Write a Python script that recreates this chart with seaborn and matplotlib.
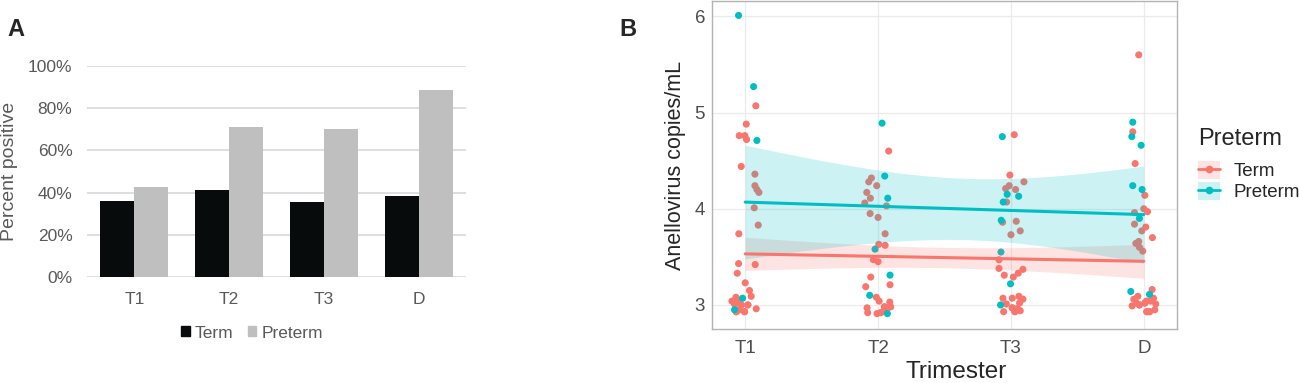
import matplotlib
matplotlib.use('Agg')
import numpy as np
import pandas as pd
import matplotlib.pyplot as plt
import seaborn as sns
from matplotlib.patches import Patch
from matplotlib.lines import Line2D

sns.set_style('white')
plt.rcParams['font.family'] = ['Liberation Sans', 'DejaVu Sans']

# Panel A: percent positive per trimester
trimesters = ['T1', 'T2', 'T3', 'D']
pct_term = [36.0, 41.1, 35.4, 38.5]
pct_preterm = [42.7, 71.2, 70.0, 88.8]

# Panel B: jittered points (x offset from category, log copies/mL)
term_t1_jit = [0.08, 0.008, -0.045, -0.003, 0.01, -0.03, 0.073, 0.073, 0.088, 0.103, 0.068, 0.098, -0.048, 0.075, -0.05,
               -0.06, 0.0, 0.032, -0.07, 0.045, -0.10, -0.055, -0.08, -0.03, 0.02, -0.045, -0.005, 0.083, -0.068,
               -0.08, -0.03, 0.02, -0.045, -0.005, -0.068]
term_t1_val = [5.07, 4.88, 4.76, 4.76, 4.72, 4.44, 4.36, 4.24, 4.20, 4.17, 4.01, 3.83, 3.74, 3.42, 3.43,
               3.33, 3.23, 3.15, 3.08, 3.09, 3.04, 3.05, 3.01, 3.00, 3.00, 2.95, 2.93, 2.96, 2.93,
               3.01, 3.00, 3.00, 2.95, 2.93, 2.93]
term_t2_jit = [0.08, -0.05, -0.07, -0.01, -0.085, -0.058, -0.1, 0.063, -0.06, 0.0, 0.053, 0.005, 0.053, -0.035, 0.0,
               -0.055, -0.093, 0.09, -0.013, 0.008, 0.088, -0.083, 0.048, 0.083, -0.078, -0.008, 0.02, 0.06, 0.095,
               0.048, 0.06, 0.02]
term_t2_val = [4.60, 4.32, 4.28, 4.24, 4.17, 4.11, 4.06, 4.03, 3.95, 3.91, 3.74, 3.63, 3.62, 3.47, 3.45,
               3.29, 3.19, 3.21, 3.08, 3.04, 3.03, 2.97, 2.98, 2.98, 2.92, 2.91, 2.92, 2.95, 2.98,
               2.98, 2.95, 2.92]
term_t3_jit = [0.025, -0.008, 0.098, -0.013, -0.04, 0.035, -0.033, -0.063, 0.04, 0.07, 0.0, -0.09, -0.09, 0.09,
               0.055, 0.018, -0.05, -0.06, 0.01, 0.06, 0.09, -0.035, 0.065, -0.055, 0.01, 0.03, 0.048, 0.07,
               0.01, 0.03, 0.048]
term_t3_val = [4.77, 4.35, 4.28, 4.24, 4.21, 4.20, 4.07, 3.86, 3.87, 3.77, 3.73, 3.47, 3.38, 3.37,
               3.33, 3.29, 3.31, 3.07, 3.07, 3.09, 3.06, 3.01, 3.02, 2.93, 2.97, 2.93, 2.96, 2.94,
               2.97, 2.93, 2.96]
term_d_jit = [-0.038, -0.083, -0.065, 0.008, 0.0, 0.028, -0.07, -0.07, 0.015, -0.015, 0.065, -0.06, -0.038, -0.033,
              -0.008, 0.063, -0.045, -0.075, 0.02, 0.073, -0.055, 0.008, 0.05, -0.088, -0.033, 0.09, 0.083, 0.023,
              0.043, 0.008, -0.033, 0.023, 0.043]
term_d_val = [5.60, 4.80, 4.47, 4.14, 4.00, 3.97, 3.96, 3.84, 3.81, 3.77, 3.70, 3.64, 3.66, 3.60,
              3.56, 3.16, 3.09, 3.06, 3.04, 3.07, 3.02, 3.02, 3.04, 2.99, 3.00, 3.01, 2.95, 2.93,
              2.93, 3.02, 3.00, 2.93, 2.93]

pre_t1_jit = [-0.05, 0.063, 0.088, -0.02, -0.08]
pre_t1_val = [6.01, 5.27, 4.71, 3.07, 2.95]
pre_t2_jit = [0.03, 0.05, 0.073, -0.023, 0.09, -0.063, 0.07]
pre_t2_val = [4.89, 4.34, 4.11, 3.58, 3.31, 3.10, 2.91]
pre_t3_jit = [-0.065, -0.028, 0.058, -0.058, -0.073, -0.075, -0.003, -0.078]
pre_t3_val = [4.75, 4.15, 4.13, 4.07, 3.88, 3.55, 3.22, 3.00]
pre_d_jit = [-0.083, -0.09, -0.02, -0.083, -0.013, -0.033, -0.098, 0.043]
pre_d_val = [4.90, 4.75, 4.66, 4.24, 4.20, 3.90, 3.14, 3.11]

group_colors = {'Term': '#F8766D', 'Preterm': '#00BFC4'}
bar_colors = {'Term': '#070B0C', 'Preterm': '#BFBFBF'}


def build_points(group, jits, vals):
    rows = []
    for i, (j, v) in enumerate(zip(jits, vals)):
        for jj, vv in zip(j, v):
            rows.append({'Preterm': group, 'tri': i + 1, 'pos': i + 1 + jj, 'copies': vv})
    return rows


rows = build_points('Term', [term_t1_jit, term_t2_jit, term_t3_jit, term_d_jit],
                    [term_t1_val, term_t2_val, term_t3_val, term_d_val])
rows += build_points('Preterm', [pre_t1_jit, pre_t2_jit, pre_t3_jit, pre_d_jit],
                     [pre_t1_val, pre_t2_val, pre_t3_val, pre_d_val])
points = pd.DataFrame(rows)

W, H = 1299, 383
fig = plt.figure(figsize=(W / 100, H / 100), dpi=100)
axA = fig.add_axes([87 / W, 1 - 277 / H, 379 / W, 211 / H])
axB = fig.add_axes([712 / W, 1 - 329 / H, 465 / W, 328 / H])

# ---- Panel A
bars = pd.DataFrame({'Trimester': trimesters * 2,
                     'Group': ['Term'] * 4 + ['Preterm'] * 4,
                     'Percent': pct_term + pct_preterm})
sns.barplot(data=bars, x='Trimester', y='Percent', hue='Group', palette=bar_colors,
            width=0.72, saturation=1, linewidth=0, ax=axA, legend=False, zorder=3)
axA.set_xlim(-0.5, 3.5)
axA.set_ylim(0, 100)
axA.set_yticks(range(0, 101, 20))
axA.set_yticklabels([f'{v}%' for v in range(0, 101, 20)])
axA.yaxis.grid(True, color='#D9D9D9', lw=1.2)
axA.set_axisbelow(True)
for s in axA.spines.values():
    s.set_visible(False)
axA.tick_params(length=0, labelsize=12.5, labelcolor='#595959', pad=11)
axA.tick_params(axis='y', pad=10.5)
axA.set_xlabel('')
axA.set_ylabel('Percent positive', fontsize=14, color='#595959')
axA.yaxis.set_label_coords((18 - 87) / 379, 0.5)
handlesA = [Patch(color=bar_colors['Term']), Patch(color=bar_colors['Preterm'])]
axA.legend(handlesA, ['Term', 'Preterm'], loc='center', bbox_to_anchor=((252 - 87) / 379, (277 - 333) / 211),
           ncol=2, frameon=False, handlelength=0.5, handleheight=0.5, handletextpad=0.3,
           columnspacing=0.8, fontsize=12.5, labelcolor='#595959')

# ---- Panel B
sns.scatterplot(data=points, x='pos', y='copies', hue='Preterm', palette=group_colors,
                s=26, linewidth=0, ax=axB, legend=False, zorder=2)

xs = np.linspace(1, 4, 80)
for group in ['Term', 'Preterm']:
    d = points[points['Preterm'] == group]
    x = d['tri'].to_numpy(float)
    y = d['copies'].to_numpy()
    n = len(x)
    slope, icept = np.polyfit(x, y, 1)
    fit = icept + slope * xs
    resid = y - (icept + slope * x)
    s_err = np.sqrt(np.sum(resid ** 2) / (n - 2))
    se = s_err * np.sqrt(1 / n + (xs - x.mean()) ** 2 / np.sum((x - x.mean()) ** 2))
    tval = 1.96 + 2.4 / (n - 2)
    axB.fill_between(xs, fit - tval * se, fit + tval * se, color=group_colors[group], alpha=0.2,
                     linewidth=0, zorder=3)
    axB.plot(xs, fit, color=group_colors[group], lw=2.2, zorder=4)

axB.set_xlim(0.75, 4.25)
axB.set_ylim(2.75, 6.16)
axB.set_xticks([1, 2, 3, 4])
axB.set_xticklabels(trimesters)
axB.set_yticks([3, 4, 5, 6])
axB.grid(True, color='#EBEBEB', lw=0.9)
axB.set_axisbelow(True)
for s in axB.spines.values():
    s.set_color('#B3B3B3')
    s.set_linewidth(1)
axB.tick_params(length=3, color='#B3B3B3', labelsize=13.5, labelcolor='#4D4D4D', pad=2)
axB.tick_params(axis='x', pad=5)
axB.set_xlabel('Trimester', fontsize=17.5)
axB.xaxis.set_label_coords((956 - 712) / 465, (329 - 361) / 328)
axB.set_ylabel('Anellovirus copies/mL', fontsize=15.5, labelpad=6)

# legend of panel B: title as its own text, entries below it
fig.text(1198 / W, 1 - 139 / H, 'Preterm', fontsize=17, va='center', ha='left')
handlesB = [(Patch(facecolor=group_colors[g], alpha=0.2, linewidth=0),
             Line2D([], [], color=group_colors[g], lw=2, marker='o', markersize=4.5))
            for g in ['Term', 'Preterm']]
fig.legend(handlesB, ['Term', 'Preterm'], loc='upper left',
           bbox_to_anchor=(1198 / W, 1 - 161 / H), frameon=False, fontsize=13.5,
           handlelength=1.15, handleheight=1.07, handletextpad=0.75,
           labelspacing=0.11, borderpad=0, borderaxespad=0)

fig.text(7 / W, 1 - 29 / H, 'A', fontsize=17, fontweight='bold', va='center', ha='left')
fig.text(619 / W, 1 - 29 / H, 'B', fontsize=17, fontweight='bold', va='center', ha='left')

fig.savefig('out.png', dpi=100)
